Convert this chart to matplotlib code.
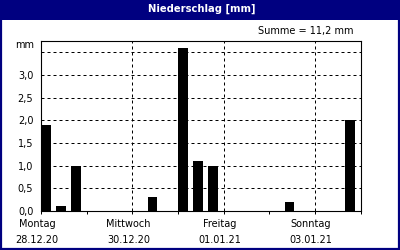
"""
Niederschlag [mm] - 8-hourly precipitation bars for one week
"""
import matplotlib
matplotlib.use('Agg')
import matplotlib.pyplot as plt
import matplotlib.patches as patches
import matplotlib.transforms as mtransforms
import numpy as np

NAVY = '#000080'

# three 8-hour slots per day, Montag 28.12.20 .. Sonntag 03.01.21
days = ['Montag', 'Dienstag', 'Mittwoch', 'Donnerstag', 'Freitag', 'Samstag', 'Sonntag']
dates = ['28.12.20', '29.12.20', '30.12.20', '31.12.20', '01.01.21', '02.01.21', '03.01.21']
labelled_days = [0, 2, 4, 6]
precip = [1.9, 0.1, 1.0,
          0.0, 0.0, 0.0,
          0.0, 0.3, 0.0,
          3.6, 1.1, 1.0,
          0.0, 0.0, 0.0,
          0.0, 0.2, 0.0,
          0.0, 0.0, 2.0]
y_ticks = [0.0, 0.5, 1.0, 1.5, 2.0, 2.5, 3.0, 3.5]
y_labels = ['0,0', '0,5', '1,0', '1,5', '2,0', '2,5', '3,0', '']
slots_per_day = 3

plt.rcParams['font.family'] = ['DejaVu Sans']
fig = plt.figure(figsize=(4, 2.5), dpi=100)
fig.patch.set_facecolor('white')

# title bar and frame
fig.patches.append(patches.Rectangle((0, 0.92), 1, 0.08, transform=fig.transFigure,
                                     facecolor=NAVY, edgecolor='none', zorder=0))
fig.patches.append(patches.Rectangle((0.002, 0.004), 0.996, 0.992, transform=fig.transFigure,
                                     facecolor='none', edgecolor=NAVY, linewidth=1.6, zorder=5))
fig.text(0.505, 0.966, 'Niederschlag [mm]', ha='center', va='center',
         color='white', fontsize=7.2, fontweight='bold')
fig.text(0.885, 0.876, 'Summe = %s mm' % ('%.1f' % sum(precip)).replace('.', ','),
         ha='right', va='center', fontsize=7)

ax = fig.add_axes([0.1025, 0.156, 0.799, 0.68])
n = len(precip)
x = np.arange(n)
ax.bar(x, precip, width=0.64, align='edge', color='black', zorder=3)

ax.set_xlim(0, n)
ax.set_ylim(0, 3.75)

# dashed grid
for yv in y_ticks[1:]:
    ax.axhline(yv, color='black', lw=0.72, ls=(0, (3, 3)), zorder=1)
for d in labelled_days[1:]:
    ax.axvline(d * slots_per_day, color='black', lw=0.72, ls=(0, (3, 3)), zorder=1)

ax.set_yticks(y_ticks)
ax.set_yticklabels(y_labels, fontsize=7)
ax.tick_params(axis='y', length=0, pad=5.5)
ax.set_xticks(np.arange(0, n + 1, slots_per_day))
ax.set_xticklabels([])
ax.tick_params(axis='x', length=2.5, width=0.72, color='black')

for sp in ax.spines.values():
    sp.set_linewidth(0.8)
    sp.set_color('black')

# day / date labels under the axis
offs = mtransforms.offset_copy(ax.get_xaxis_transform(), fig=fig, x=-4, y=0, units='dots')
for d in labelled_days:
    ax.text(d * slots_per_day, -0.075, days[d], transform=offs,
            ha='center', va='center', fontsize=7, clip_on=False)
    ax.text(d * slots_per_day, -0.17, dates[d], transform=offs,
            ha='center', va='center', fontsize=7, clip_on=False)

ax.text(-0.02, 0.975, 'mm', transform=ax.transAxes, ha='right', va='center', fontsize=7)

fig.savefig('out.png', dpi=100, facecolor='white')
